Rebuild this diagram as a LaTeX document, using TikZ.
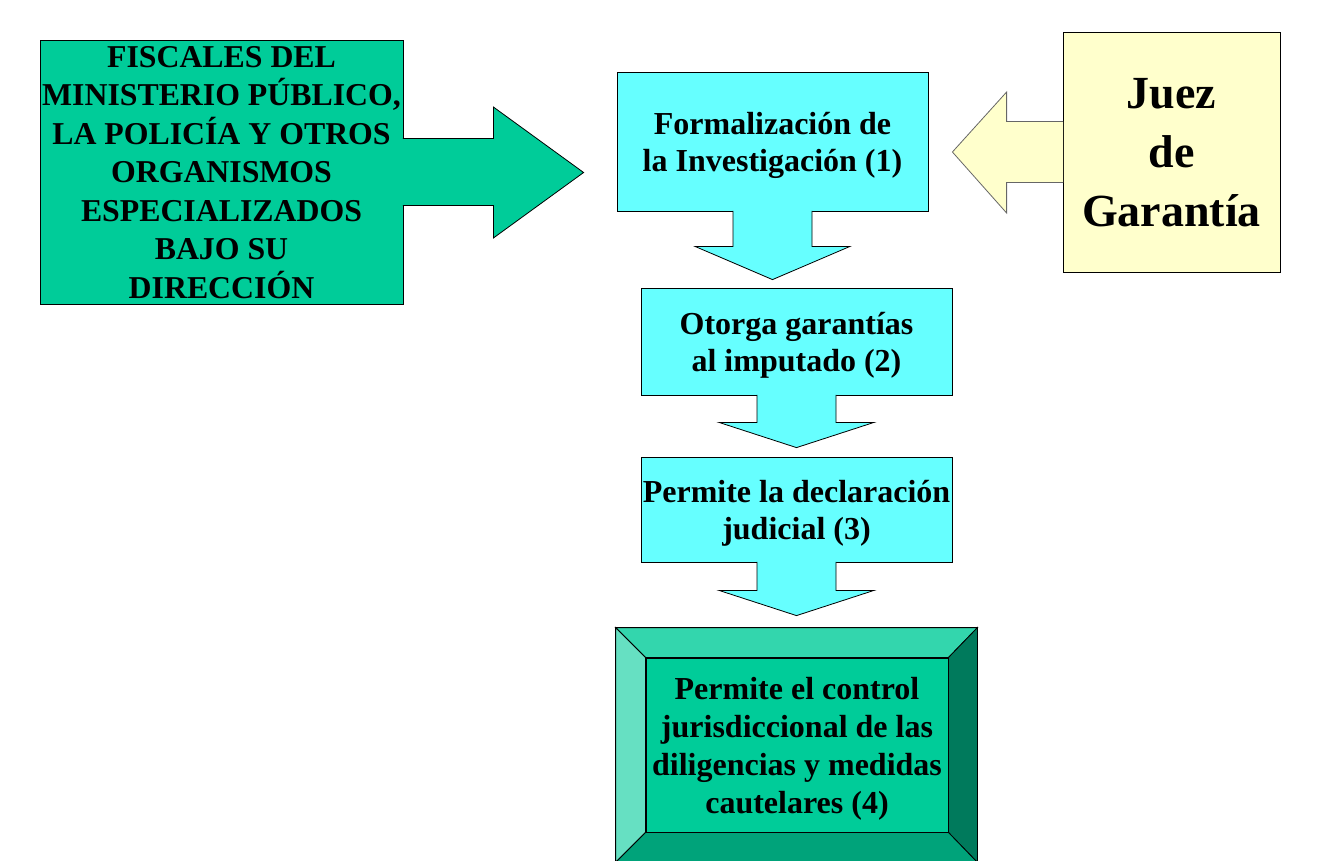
\documentclass[tikz,border=0pt]{standalone}
\usepackage{fontspec}
\setmainfont{Liberation Serif}
\usetikzlibrary{calc}

\definecolor{verde}{HTML}{00CC99}
\definecolor{cian}{HTML}{66FFFF}
\definecolor{crema}{HTML}{FFFFCC}
\definecolor{verdeclaro}{HTML}{66E0C2}
\definecolor{verdemedio}{HTML}{33D6AD}
\definecolor{verdeoscuro}{HTML}{007A5C}
\definecolor{verdebajo}{HTML}{00A37A}

\tikzset{
    caja/.style={draw=black, line width=0.8pt, inner sep=0pt, align=center, text depth=-5pt,
        font=\bfseries\fontsize{32}{37}\selectfont},
    flecha/.style={draw=black, line width=0.8pt, line join=miter},
}

\begin{document}
\begin{tikzpicture}[x=1pt, y=-1pt]

        \useasboundingbox (0,0) rectangle (1320,860);

        \node[caja, fill=verde, minimum width=363pt, minimum height=264pt,
            font=\bfseries\fontsize{31.8}{38.5}\selectfont] (fisc) at (221.5,172)
            {FISCALES DEL\\MINISTERIO PÚBLICO,\\LA POLICÍA Y OTROS\\ORGANISMOS\\ESPECIALIZADOS\\BAJO SU\\DIRECCIÓN};

        \node[caja, fill=cian, minimum width=311pt, minimum height=139pt] (inv) at (772.5,141.5)
            {Formalización de\\la Investigación (1)};
        \node[caja, fill=cian, minimum width=311pt, minimum height=107pt] (gar) at (796.5,341.5)
            {Otorga garantías\\al imputado (2)};
        \node[caja, fill=cian, minimum width=311pt, minimum height=105pt] (decl) at (796.5,509.5)
            {Permite la declaración\\judicial (3)};

        \node[caja, fill=crema, minimum width=217pt, minimum height=240pt,
            font=\bfseries\fontsize{46}{59}\selectfont] (juez) at (1171.5,152)
            {Juez\\de\\Garantía};

        % Marco biselado
        \node[caja, fill=verde, minimum width=361pt, minimum height=234pt] (marco) at (796.5,745) {};
        \node[caja, fill=verde, minimum width=302pt, minimum height=174pt,
            font=\bfseries\fontsize{32}{38}\selectfont] (ctrl) at (797,745)
            {Permite el control\\jurisdiccional de las\\diligencias y medidas\\cautelares (4)};
        \filldraw[flecha, fill=verdemedio] (marco.north west) -- (marco.north east) -- (ctrl.north east) -- (ctrl.north west) -- cycle;
        \filldraw[flecha, fill=verdeclaro] (marco.north west) -- (ctrl.north west) -- (ctrl.south west) -- (marco.south west) -- cycle;
        \filldraw[flecha, fill=verdeoscuro] (marco.north east) -- (marco.south east) -- (ctrl.south east) -- (ctrl.north east) -- cycle;
        \filldraw[flecha, fill=verdebajo] (marco.south west) -- (ctrl.south west) -- (ctrl.south east) -- (marco.south east) -- cycle;

        % Flecha de los fiscales
        \filldraw[flecha, fill=verde] ($(fisc.east)+(-0.6,-33.5)$) -- ($(fisc.east)+(90,-33.5)$)
            -- ($(fisc.east)+(90,-65)$) -- ($(fisc.east -| inv.west)+(-33,0.5)$)
            -- ($(fisc.east)+(90,66)$) -- ($(fisc.east)+(90,33.5)$) -- ($(fisc.east)+(-0.6,33.5)$);

        % Flecha del juez
        \filldraw[flecha, fill=crema, draw=black!60] ($(juez.west)+(0.6,-30.5)$) -- ($(juez.west)+(-56,-30.5)$)
            -- ($(juez.west)+(-56,-60)$) -- ($(juez.west -| inv.east)+(24,0)$)
            -- ($(juez.west)+(-56,61)$) -- ($(juez.west)+(-56,30.5)$) -- ($(juez.west)+(0.6,30.5)$);

        % Flechas hacia abajo
        \foreach \a/\b/\d/\g in {inv/gar/35/8, gar/decl/27/9, decl/marco/28/12} {
            \filldraw[flecha, fill=cian] ($(\a.south)+(-39.5,-0.6)$) -- ($(\a.south)+(-39.5,\d)$)
                -- ($(\a.south)+(-77.5,\d)$) -- ($(\a.south |- \b.north)+(0,-\g)$)
                -- ($(\a.south)+(77.5,\d)$) -- ($(\a.south)+(39.5,\d)$) -- ($(\a.south)+(39.5,-0.6)$);
        }

\end{tikzpicture}
\end{document}
